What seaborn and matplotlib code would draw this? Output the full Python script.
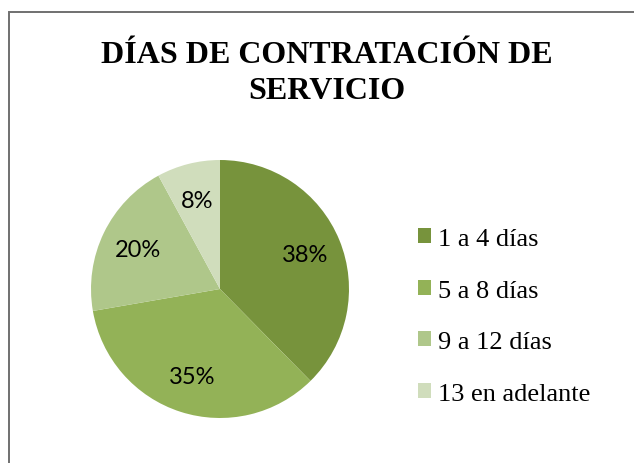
import seaborn as sns
import matplotlib.pyplot as plt
from matplotlib.patches import Rectangle

categories = ["1 a 4 días", "5 a 8 días", "9 a 12 días", "13 en adelante"]
percentages = [38, 35, 20, 8]
slice_colors = ["#77933C", "#93B257", "#AFC78A", "#D0DDBC"]

sns.set_theme(style="white")
plt.rcParams["text.color"] = "black"
palette = sns.color_palette(slice_colors)

fig = plt.figure(figsize=(6.34, 4.64), dpi=100)
ax = fig.add_axes([0.1435, 0.097, 0.407, 0.556])

total = sum(percentages)
wedges, texts, autotexts = ax.pie(
    percentages, colors=palette, startangle=90, counterclock=False,
    autopct=lambda p: f"{round(p * total / 100)}%", pctdistance=0.71,
    wedgeprops=dict(linewidth=0),
    textprops=dict(family="Lato", fontsize=17, color="black"))
ax.set_xlim(-1, 1)
ax.set_ylim(-1, 1)
ax.set_aspect("equal")

fig.suptitle("DÍAS DE CONTRATACIÓN DE\nSERVICIO", x=0.515, y=0.911,
             family="Liberation Serif", fontweight="bold", fontsize=23,
             linespacing=1.3, color="black")

fig.legend(wedges, categories, loc="center left",
           bbox_to_anchor=(0.622, 0.316), frameon=False,
           prop=dict(family="Liberation Serif", size=19),
           handlelength=0.5, handleheight=0.5, handletextpad=0.25,
           labelspacing=1.12, labelcolor="black")

# chart frame (only left and top edges are visible in the crop)
fig.patches.append(Rectangle((8.5 / 634, -0.1), 1.2, 1 - 12.5 / 464 + 0.1,
                             transform=fig.transFigure, fill=False,
                             edgecolor="#707070", linewidth=1.4))

fig.savefig("out.png", dpi=100)
